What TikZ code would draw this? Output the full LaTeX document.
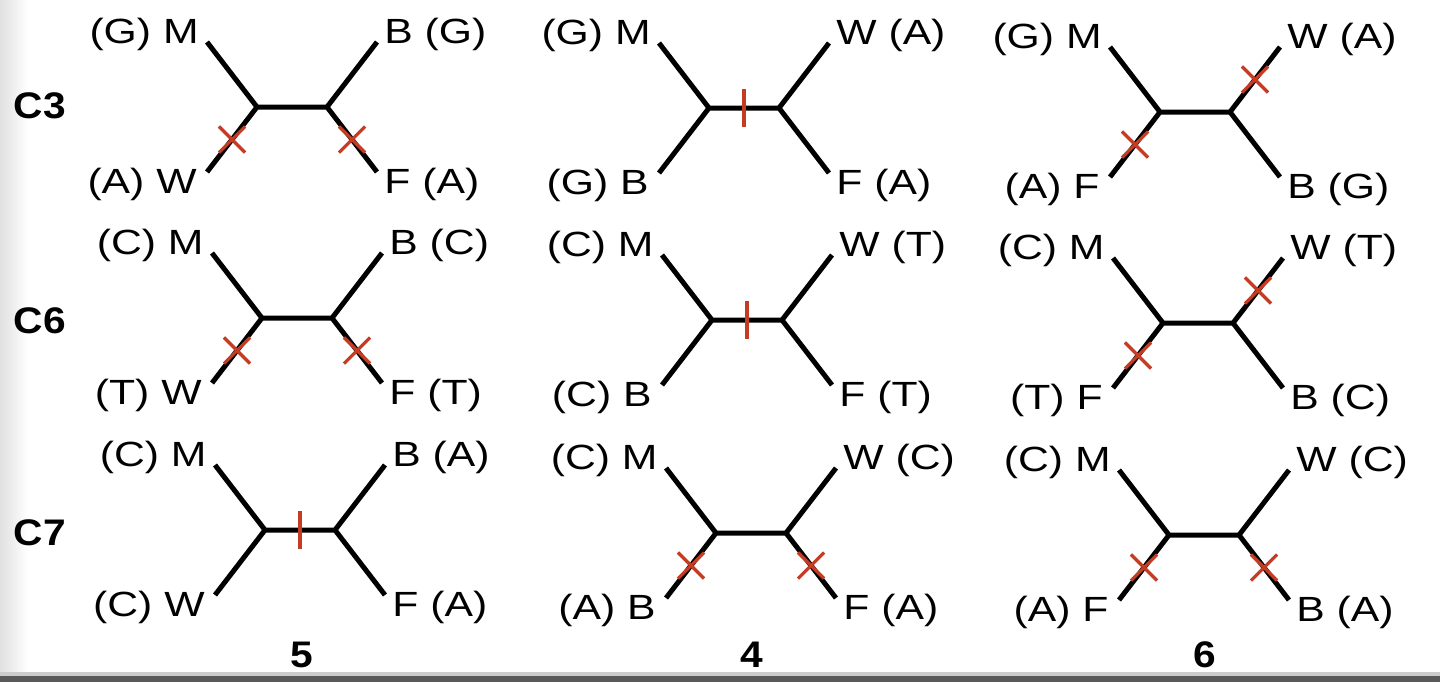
\documentclass[tikz,border=0pt]{standalone}
\usepackage{fontspec}
\setmainfont{Liberation Sans}[FakeStretch=1.22, BoldFeatures={FakeStretch=1.1}]
\usepackage{tikz}
\usetikzlibrary{shapes.misc, calc}
\definecolor{tickred}{RGB}{196,60,36}
\tikzstyle{branch} = [line width=2.5pt, draw=black]
\tikzstyle{leaf} = [inner sep=0pt, font=\fontsize{17.5}{21}\selectfont]
\tikzstyle{rowlabel} = [inner sep=0pt, font=\fontsize{18.5}{22}\selectfont\bfseries]
\tikzstyle{xmark} = [cross out, draw=tickred, line width=1.6pt, minimum size=11.5pt, inner sep=0pt]
\tikzstyle{tickbar} = [draw=tickred, line width=1.8pt]

% one unrooted quartet: name, centre x, centre y, leaves TL, TR, BL, BR
\newcommand{\quartet}[7]{%
  \coordinate (#1-l) at (#2-35,#3);
  \coordinate (#1-r) at (#2+35,#3);
  \coordinate (#1-tl) at (#2-85,#3-65);
  \coordinate (#1-tr) at (#2+85,#3-65);
  \coordinate (#1-bl) at (#2-85,#3+65);
  \coordinate (#1-br) at (#2+85,#3+65);
  \draw[branch] (#1-tl) -- (#1-l) -- (#1-bl) (#1-l) -- (#1-r) (#1-tr) -- (#1-r) -- (#1-br);
  \node[leaf, anchor=base east] (#1-TL) at ($(#1-tl)+(-8,1)$) {#4};
  \node[leaf, anchor=base west] (#1-TR) at ($(#1-tr)+(7,1)$) {#5};
  \node[leaf, anchor=base east] (#1-BL) at ($(#1-bl)+(-10,21)$) {#6};
  \node[leaf, anchor=base west] (#1-BR) at ($(#1-br)+(7,21)$) {#7};
}

\begin{document}
\begin{tikzpicture}[x=0.5pt, y=-0.5pt]
  \useasboundingbox (0,0) rectangle (1440,682);
  \shade[left color=black!12, right color=white] (0,0) rectangle (28,673);
  \fill[black!20] (0,672) rectangle (1440,676);
  \fill[black!65] (0,676) rectangle (1440,682);

  % row labels
  \node[rowlabel] (c3) at (40,106) {C3};
  \node[rowlabel] (c6) at (40,321) {C6};
  \node[rowlabel] (c7) at (40,533) {C7};

  % trees
  \quartet{a}{292}{107}{(G) M}{B (G)}{(A) W}{F (A)}
  \quartet{b}{744}{108}{(G) M}{W (A)}{(G) B}{F (A)}
  \quartet{c}{1195}{112}{(G) M}{W (A)}{(A) F}{B (G)}
  \quartet{d}{297}{318}{(C) M}{B (C)}{(T) W}{F (T)}
  \quartet{e}{747}{320}{(C) M}{W (T)}{(C) B}{F (T)}
  \quartet{f}{1198}{323}{(C) M}{W (T)}{(T) F}{B (C)}
  \quartet{g}{300}{530}{(C) M}{B (A)}{(C) W}{F (A)}
  \quartet{h}{751}{533}{(C) M}{W (C)}{(A) B}{F (A)}
  \quartet{i}{1204}{535}{(C) M}{W (C)}{(A) F}{B (A)}

  % changes
  \node[xmark] at ($(a-l)!.5!(a-bl)$) {};
  \node[xmark] at ($(a-r)!.5!(a-br)$) {};
  \draw[tickbar] ($(b-l)!.5!(b-r)$) +(0,-19) -- +(0,19);
  \node[xmark] at ($(c-l)!.5!(c-bl)$) {};
  \node[xmark] at ($(c-r)!.5!(c-tr)$) {};
  \node[xmark] at ($(d-l)!.5!(d-bl)$) {};
  \node[xmark] at ($(d-r)!.5!(d-br)$) {};
  \draw[tickbar] ($(e-l)!.5!(e-r)$) +(0,-19) -- +(0,19);
  \node[xmark] at ($(f-l)!.5!(f-bl)$) {};
  \node[xmark] at ($(f-r)!.5!(f-tr)$) {};
  \draw[tickbar] ($(g-l)!.5!(g-r)$) +(0,-19) -- +(0,19);
  \node[xmark] at ($(h-l)!.5!(h-bl)$) {};
  \node[xmark] at ($(h-r)!.5!(h-br)$) {};
  \node[xmark] at ($(i-l)!.5!(i-bl)$) {};
  \node[xmark] at ($(i-r)!.5!(i-br)$) {};

  % column scores
  \node[rowlabel] (s5) at (302,655) {5};
  \node[rowlabel] (s4) at (752,655) {4};
  \node[rowlabel] (s6) at (1205,655) {6};
\end{tikzpicture}
\end{document}
